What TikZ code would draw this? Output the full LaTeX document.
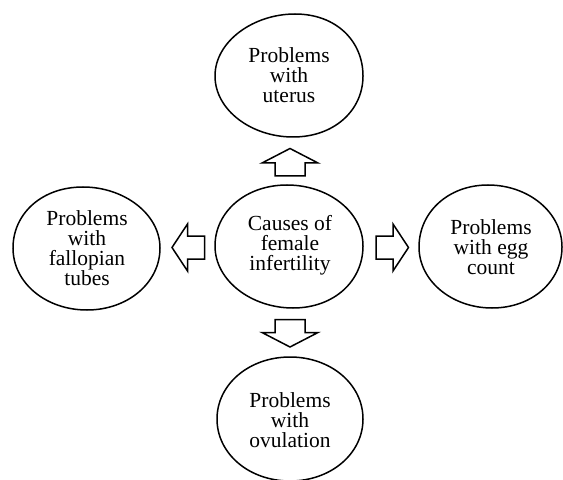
\documentclass[tikz,border=0pt]{standalone}
\usepackage{fontspec}
\setmainfont{Liberation Serif}
\usetikzlibrary{calc}
\tikzset{
  lbl/.style={align=center, inner sep=0pt, font=\fontsize{21.5bp}{19.8bp}\selectfont},
  blobline/.style={draw=black, line width=1.5bp},
  arrowline/.style={draw=black, line width=1.5bp, line join=miter, fill=white},
  varrow/.pic={\draw[arrowline] (0,0) -- (28,14.5) -- (15,14.5) -- (15,27.5) -- (-15,27.5) -- (-15,14.5) -- (-28,14.5) -- cycle;},
  harrow/.pic={\draw[arrowline] (0,0) -- (15.5,-23.5) -- (15.5,-11.5) -- (32.5,-11.5) -- (32.5,11.5) -- (15.5,11.5) -- (15.5,23.5) -- cycle;}
}
% blob: #1 centre, #2 right, #3 top, #4 left, #5 bottom radii, #6 top x-shift, #7 bottom x-shift
\newcommand\myblob[7]{%
  \draw[blobline, shift={#1}]
    (#2,0) .. controls (#2,-0.56*#3) and (#6+0.56*#2,-#3) .. (#6,-#3)
    .. controls (#6-0.56*#4,-#3) and (-#4,-0.56*#3) .. (-#4,0)
    .. controls (-#4,0.56*#5) and (#7-0.56*#4,#5) .. (#7,#5)
    .. controls (#7+0.56*#2,#5) and (#2,0.56*#5) .. (#2,0) -- cycle;}
\begin{document}
\begin{tikzpicture}[x=1bp,y=-1bp]
\useasboundingbox (0,0) rectangle (563,480);
% text nodes
\node[lbl] (t) at (289,75) {Problems\\with\\uterus};
\node[lbl] (c) at (290,245) {Causes of\\female\\infertility};
\node[lbl] (l) at (87,248) {Problems\\with\\fallopian\\tubes};
\node[lbl] (r) at (491,247) {Problems\\with egg\\count};
\node[lbl] (b) at (290,420) {Problems\\with\\ovulation};
% blobs round the nodes
\myblob{(289,76)}{74}{62}{74}{61}{6}{4}
\myblob{(289,246)}{74}{61}{74}{62}{-2}{4}
\myblob{(87,248)}{73}{61}{74}{62}{-4}{0}
\myblob{(490,247)}{72}{62}{71}{61}{-2}{2}
\myblob{(290,419)}{73}{62}{73}{62}{0}{0}
% block arrows
\pic at (290,148.5) {varrow};
\pic[rotate=180] at (290,347) {varrow};
\pic at (172,247.5) {harrow};
\pic[rotate=180] at (408.5,247.5) {harrow};
\end{tikzpicture}
\end{document}
